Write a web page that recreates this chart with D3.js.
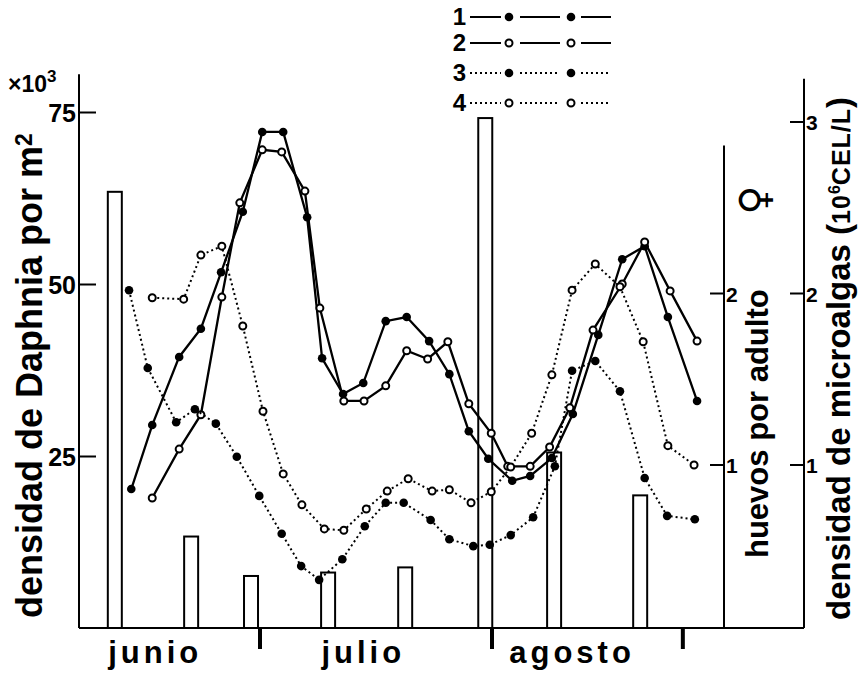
<!DOCTYPE html>
<meta charset="utf-8">
<style>
body { margin: 0; background: #fff; }
text { font-family: "Liberation Sans", Arial, sans-serif; font-weight: bold; fill: #000; }
.axis path { display: none; }
.axis line { stroke: #000; stroke-width: 2; }
</style>
<svg width="861" height="680"></svg>
<script src="https://d3js.org/d3.v7.min.js"></script>
<script>

// dias contados desde el 1 de junio
var dias1 = [12.8, 15.6, 19.2, 22.1, 24.8, 27.7, 30.3, 33.1, 36.3, 38.3, 41.1, 43.8, 46.8, 49.6, 52.6, 55.3, 57.9, 60.5, 63.7, 66.1, 69.0, 71.8, 75.2, 78.4, 81.4, 84.5, 88.4];
var dens1 = [20.2, 29.5, 39.4, 43.5, 51.7, 60.5, 72.1, 72.1, 59.7, 39.2, 34.0, 35.6, 44.6, 45.2, 41.7, 36.9, 28.6, 24.6, 21.4, 22.1, 24.7, 31.1, 42.6, 53.6, 55.5, 45.2, 33.0];

var dias2 = [15.6, 19.2, 22.1, 24.9, 27.3, 30.3, 32.9, 36.0, 38.0, 41.2, 43.9, 46.8, 49.6, 52.4, 55.1, 57.9, 60.9, 63.1, 66.1, 68.7, 71.4, 74.5, 78.4, 81.4, 84.8, 88.4];
var dens2 = [18.9, 26.0, 31.0, 48.1, 61.8, 69.5, 69.2, 63.5, 46.5, 33.0, 33.0, 35.2, 40.3, 39.1, 41.6, 32.6, 28.3, 23.5, 23.5, 26.3, 32.0, 43.3, 50.0, 56.1, 49.0, 41.7];

var dias3 = [12.5, 15.0, 18.8, 21.3, 24.1, 26.9, 29.9, 32.9, 35.5, 37.9, 41.0, 44.0, 46.8, 49.2, 52.8, 55.3, 58.5, 60.7, 63.5, 66.5, 69.4, 71.7, 74.8, 78.1, 81.4, 84.4, 88.1];
var dens3 = [49.1, 37.8, 29.9, 31.8, 29.7, 24.9, 19.2, 13.7, 9.0, 7.0, 10.0, 14.8, 18.2, 18.2, 15.7, 12.9, 11.9, 12.1, 13.5, 16.1, 23.5, 37.4, 38.8, 34.4, 21.8, 16.3, 15.8];

var dias4 = [15.6, 19.8, 22.1, 24.9, 27.7, 30.4, 33.1, 35.6, 38.6, 41.2, 44.2, 47.0, 49.8, 53.0, 55.3, 58.2, 60.9, 63.5, 66.3, 69.0, 71.7, 74.8, 78.1, 81.2, 84.5, 88.0];
var dens4 = [48.0, 47.8, 54.2, 55.5, 43.9, 31.5, 22.4, 17.9, 14.4, 14.2, 17.3, 19.9, 21.7, 19.9, 20.1, 18.2, 19.8, 23.4, 28.3, 36.8, 49.1, 52.9, 49.6, 41.6, 26.5, 23.7];

// barras (eje derecho)
var barDias = [10.6, 20.8, 28.8, 39.1, 49.4, 60.1, 69.3, 80.8];
var barValores = [2.59, 0.58, 0.35, 0.37, 0.40, 3.02, 1.07, 0.82];

var ticksIzq = [25, 50, 75];
var ticksHuevos = [1, 2];
var ticksAlgas = [1, 2, 3];
var meses = ["junio", "julio", "agosto"];
var mesesCentro = [16, 43.8, 71.7];
var limitesMes = [30, 61, 86.5];

var series = [
  {id: "1", dias: dias1, vals: dens1, dotted: false, filled: true},
  {id: "2", dias: dias2, vals: dens2, dotted: false, filled: false},
  {id: "3", dias: dias3, vals: dens3, dotted: true, filled: true},
  {id: "4", dias: dias4, vals: dens4, dotted: true, filled: false}
];

var svg = d3.select("svg");

var x = d3.scaleLinear().domain([30, 61]).range([260, 492]);
var y = d3.scaleLinear().domain([0, 75]).range([628, 112]);
var yR = d3.scaleLinear().domain([0, 3]).range([636, 121.5]);

var xIzq = 79, xHuevos = 724, xAlgas = 804;

// bars
svg.append("g").selectAll("rect")
  .data(barDias)
  .enter().append("rect")
    .attr("x", function(d) { return x(d) - 7; })
    .attr("width", 14)
    .attr("y", function(d, i) { return yR(barValores[i]); })
    .attr("height", function(d, i) { return y(0) - yR(barValores[i]); })
    .attr("fill", "none")
    .attr("stroke", "#000")
    .attr("stroke-width", 2);

// left axis
var gL = svg.append("g").attr("class", "axis")
  .attr("transform", "translate(" + xIzq + ",0)")
  .call(d3.axisLeft(y).tickValues(ticksIzq).tickSizeInner(-17).tickSizeOuter(0).tickPadding(3));
gL.selectAll("text").style("font-size", "25px").attr("dy", "0.36em");
gL.append("line").attr("y1", y(0)).attr("y2", y(80.5));

// right axes
var fmt = d3.format("d");
var gH = svg.append("g").attr("class", "axis")
  .attr("transform", "translate(" + xHuevos + ",0)")
  .call(d3.axisRight(yR).tickValues(ticksHuevos).tickFormat(fmt).tickSizeInner(-14).tickSizeOuter(0).tickPadding(2));
gH.selectAll("text").style("font-size", "21px").attr("dy", "0.4em");
gH.append("line").attr("y1", y(0)).attr("y2", yR(2.86));

var gA = svg.append("g").attr("class", "axis")
  .attr("transform", "translate(" + xAlgas + ",0)")
  .call(d3.axisRight(yR).tickValues(ticksAlgas).tickFormat(fmt).tickSizeInner(-14).tickSizeOuter(0).tickPadding(2));
gA.selectAll("text").style("font-size", "21px").attr("dy", "0.4em");
gA.append("line").attr("y1", y(0)).attr("y2", yR(3.25));

// x baseline + month ticks
svg.append("line")
  .attr("x1", xIzq).attr("x2", xAlgas)
  .attr("y1", y(0)).attr("y2", y(0))
  .attr("stroke", "#000").attr("stroke-width", 2);

svg.append("g").selectAll("line")
  .data(limitesMes)
  .enter().append("line")
    .attr("x1", function(d) { return x(d); })
    .attr("x2", function(d) { return x(d); })
    .attr("y1", y(0)).attr("y2", y(0) + 21)
    .attr("stroke", "#000").attr("stroke-width", 4);

svg.append("g").selectAll("text")
  .data(meses)
  .enter().append("text")
    .attr("x", function(d, i) { return x(mesesCentro[i]); })
    .attr("y", 663)
    .attr("text-anchor", "middle")
    .style("font-size", "31px")
    .style("letter-spacing", "4px")
    .text(function(d) { return d; });

// lines
var line = d3.line()
  .x(function(d) { return x(d[0]); })
  .y(function(d) { return y(d[1]); });

series.forEach(function(s) {
  var pts = s.dias.map(function(d, i) { return [d, s.vals[i]]; });
  svg.append("path")
    .datum(pts)
    .attr("d", line)
    .attr("fill", "none")
    .attr("stroke", "#000")
    .attr("stroke-width", s.dotted ? 2 : 2.3)
    .attr("stroke-dasharray", s.dotted ? "2,3" : null);
  svg.append("g").selectAll("circle")
    .data(pts)
    .enter().append("circle")
      .attr("cx", function(d) { return x(d[0]); })
      .attr("cy", function(d) { return y(d[1]); })
      .attr("r", s.filled ? 4.3 : 3.5)
      .attr("fill", s.filled ? "#000" : "#fff")
      .attr("stroke", "#000")
      .attr("stroke-width", s.filled ? 0 : 2);
});

// legend
var legY = [17, 43, 73, 103];
var leg = svg.append("g").selectAll("g")
  .data(series)
  .enter().append("g")
    .attr("transform", function(d, i) { return "translate(0," + legY[i] + ")"; });
leg.append("text")
  .attr("x", 466).attr("y", 8)
  .attr("text-anchor", "end")
  .style("font-size", "24px")
  .text(function(d) { return d.id; });
[[470, 501], [520, 560], [581, 611]].forEach(function(seg) {
  leg.append("line")
    .attr("x1", seg[0]).attr("x2", seg[1])
    .attr("stroke", "#000")
    .attr("stroke-width", 2)
    .attr("stroke-dasharray", function(d) { return d.dotted ? "2,3" : null; });
});
[509, 571].forEach(function(cx) {
  leg.append("circle")
    .attr("cx", cx)
    .attr("r", function(d) { return d.filled ? 4.3 : 3.5; })
    .attr("fill", function(d) { return d.filled ? "#000" : "#fff"; })
    .attr("stroke", "#000")
    .attr("stroke-width", function(d) { return d.filled ? 0 : 2; });
});

// titles
var tl = svg.append("text")
  .attr("transform", "translate(42,618) rotate(-90)")
  .style("font-size", "36px");
tl.append("tspan").text("densidad de Daphnia por m");
tl.append("tspan").attr("dy", "-0.45em").style("font-size", "23px").text("2");

var ex = svg.append("text").attr("x", 8).attr("y", 92).style("font-size", "23px");
ex.append("tspan").text("×10");
ex.append("tspan").attr("dy", -10).style("font-size", "17px").text("3");

svg.append("text")
  .attr("transform", "translate(768,558) rotate(-90)")
  .style("font-size", "31px")
  .text("huevos por adulto");
svg.append("text")
  .attr("transform", "translate(768,200) rotate(-90)")
  .attr("text-anchor", "middle")
  .style("font-family", "DejaVu Sans")
  .style("font-weight", "normal")
  .style("font-size", "40px")
  .text("♀");

var tr = svg.append("text")
  .attr("transform", "translate(850,620) rotate(-90)")
  .style("font-size", "33px");
tr.append("tspan").text("densidad de microalgas (");
tr.append("tspan").style("font-size", "25px").style("letter-spacing", "1px").text("10");
tr.append("tspan").attr("dy", -10).style("font-size", "16px").text("6");
tr.append("tspan").attr("dy", 10).style("font-size", "25px").style("letter-spacing", "1px").text("CEL/L");
tr.append("tspan").text(")");

</script>
